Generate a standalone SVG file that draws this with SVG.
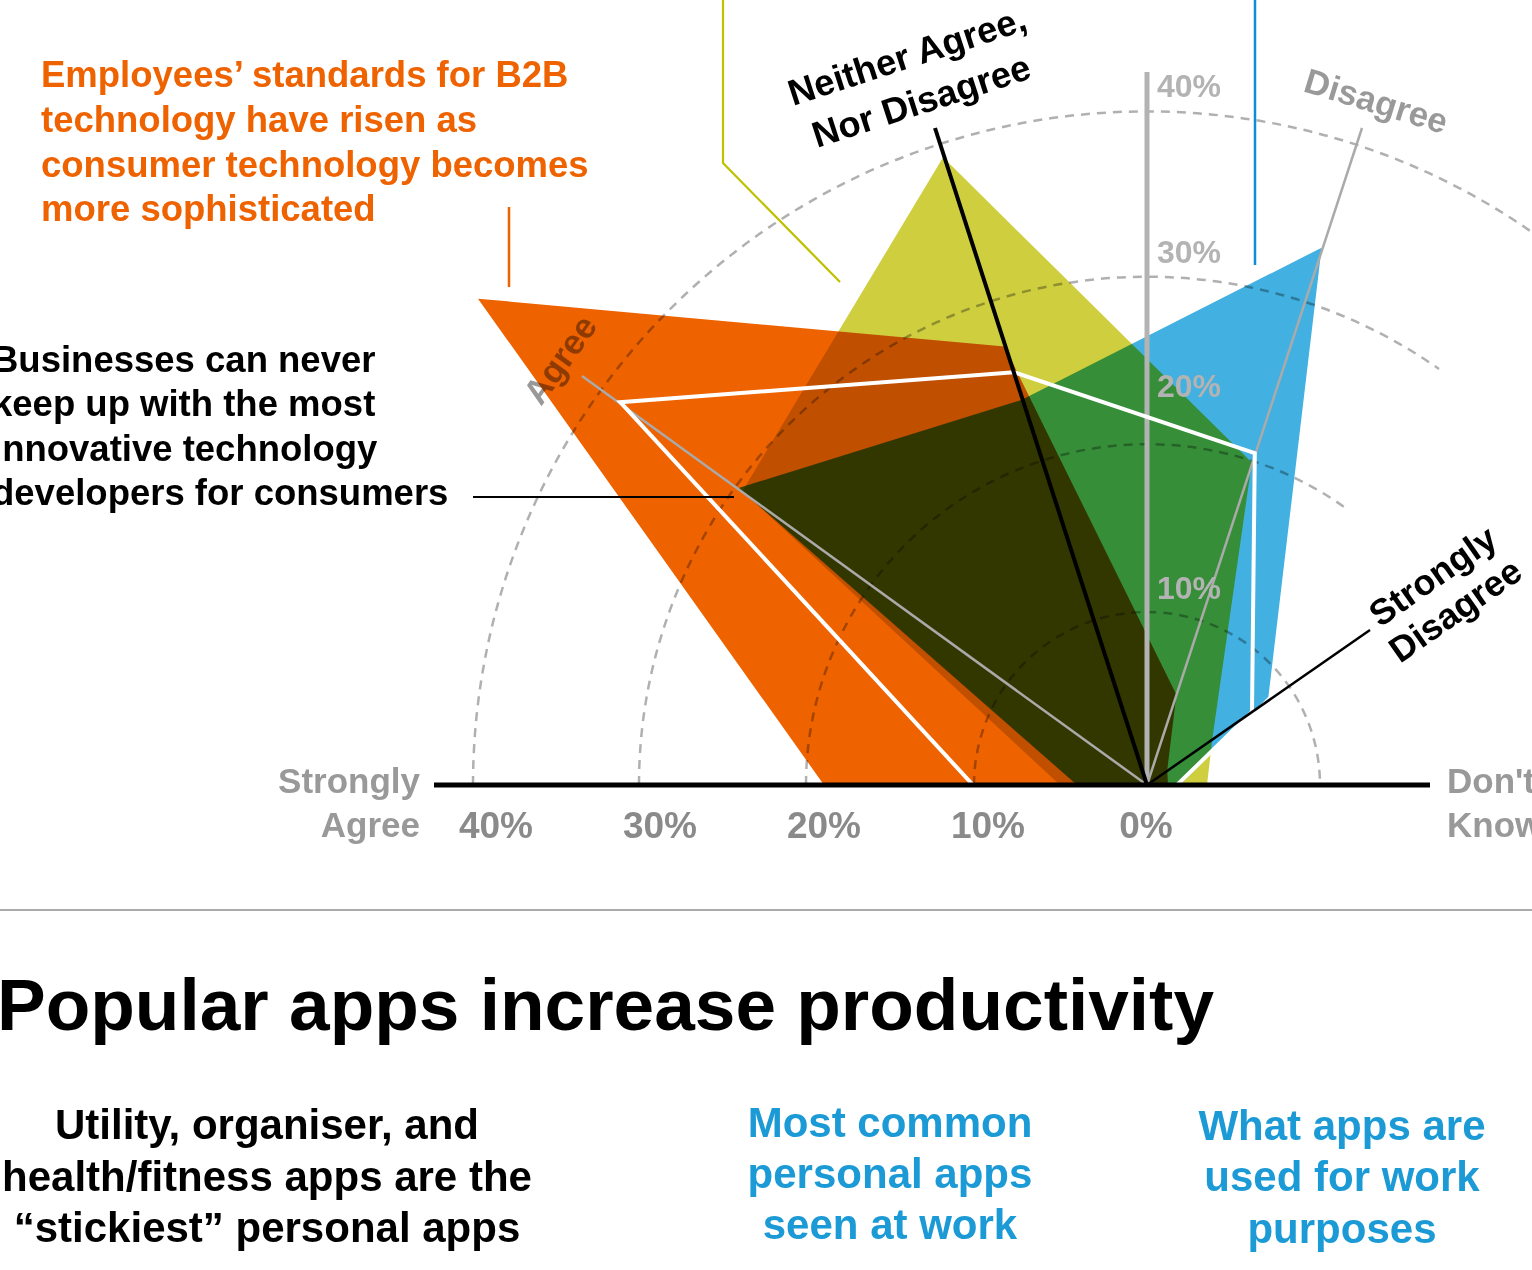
<svg xmlns="http://www.w3.org/2000/svg" width="1532" height="1270" viewBox="0 0 1532 1270">
<style>
text{font-family:"Liberation Sans",Arial,sans-serif;font-weight:bold}
.arc{fill:none;stroke:#000;stroke-opacity:0.31;stroke-width:2.5;stroke-dasharray:9 7}
.ser{mix-blend-mode:multiply}
.ann{font-size:36.5px}
.org{fill:#EE6200}
.blk{fill:#000}
.vlab{font-size:32px;fill:#B3B3B3}
.blab{font-size:37px;fill:#8A8A8A;text-anchor:middle}
.glab{font-size:35px;fill:#999}
.tlab{font-size:35px;fill:#000;fill-opacity:0.4}
.sub{font-size:42px;text-anchor:middle}
.blue{fill:#1B9AD6}
</style>
<rect x="0" y="0" width="1532" height="1270" fill="#fff"/>

<g id="grid">
<path class="arc" d="M974,785 A173,173 0 0 1 1320,785"/>
<path class="arc" d="M806,785 A341,341 0 0 1 1347,509"/>
<path class="arc" d="M639,785 A508,508 0 0 1 1439,369"/>
<path class="arc" d="M473,785 A674,674 0 0 1 1543,240"/>
</g>

<g id="series">
<g id="series-orange"><polygon class="ser" fill="#EE6200" points="824,785 478,298.7 1004.6,346.6 1176.4,694.7 1167.2,770.3 1168,785"/></g>
<g id="series-yellow"><polygon class="ser" fill="#CFCE3F" points="1060,785 742.5,491 943.1,157.3 1251.8,462.6 1212.5,737.4 1207,785"/></g>
<g id="series-blue"><polygon class="ser" fill="#42B0E0" points="1077,785 738.5,488 1021.9,399.8 1321.6,247.7 1268.4,696.8 1180,785"/></g>
</g>

<g id="connectors">
<line x1="1147" y1="785" x2="1147" y2="72" stroke="#B3B3B3" stroke-width="5"/>
<line x1="1147" y1="785" x2="582" y2="376" stroke="#AAAAAA" stroke-width="2.5"/>
<line x1="1147" y1="785" x2="1362" y2="128" stroke="#AAAAAA" stroke-width="2.5"/>
<polyline id="series-white" points="973,785 620.3,402.2 1014,372.3 1254.8,453.1 1252,712 1177,785" fill="none" stroke="#fff" stroke-width="4"/>
<line x1="1147" y1="785" x2="935" y2="128" stroke="#000" stroke-width="4"/>
<line x1="1147" y1="785" x2="1370" y2="630" stroke="#000" stroke-width="2.5"/>
<line x1="434" y1="785" x2="1430" y2="785" stroke="#000" stroke-width="5"/>
<line x1="509" y1="207" x2="509" y2="287" stroke="#EE6200" stroke-width="2.5"/>
<polyline points="723,0 723,163 840,282" fill="none" stroke="#BFC000" stroke-width="2.2"/>
<line x1="1255" y1="0" x2="1255" y2="265" stroke="#0A8ED8" stroke-width="2.5"/>
<line x1="473" y1="497" x2="734" y2="497" stroke="#000" stroke-width="2.2"/>
<line x1="0" y1="910" x2="1532" y2="910" stroke="#AAAAAA" stroke-width="2"/>
</g>

<g id="scale-labels">
<text class="vlab" x="1157" y="97">40%</text>
<text class="vlab" x="1157" y="263">30%</text>
<text class="vlab" x="1157" y="397">20%</text>
<text class="vlab" x="1157" y="599">10%</text>
<text class="blab" x="496" y="838">40%</text>
<text class="blab" x="660" y="838">30%</text>
<text class="blab" x="824" y="838">20%</text>
<text class="blab" x="988" y="838">10%</text>
<text class="blab" x="1146" y="838">0%</text>
</g>

<g id="axis-strongly-agree"><text class="glab" text-anchor="end" x="420" y="793">Strongly</text><text class="glab" text-anchor="end" x="420" y="837">Agree</text></g>
<g id="axis-dont-know"><text class="glab" x="1447" y="793">Don't</text><text class="glab" x="1447" y="837">Know</text></g>
<g id="axis-agree"><text class="tlab" transform="translate(541,407) rotate(-54.5)">Agree</text></g>
<g id="axis-disagree"><text class="tlab" transform="translate(1302,91) rotate(17)">Disagree</text></g>
<g id="axis-neither"><text class="blk" font-size="36.5" transform="translate(793,106) rotate(-18)">Neither Agree,</text><text class="blk" font-size="36.5" transform="translate(817,148) rotate(-18)">Nor Disagree</text></g>
<g id="axis-strongly-disagree"><text class="blk" font-size="36" transform="translate(1380,628) rotate(-35)">Strongly</text><text class="blk" font-size="36" transform="translate(1400,664) rotate(-35)">Disagree</text></g>

<g id="note-orange"><text class="ann org" x="41" y="87">Employees’ standards for B2B</text><text class="ann org" x="41" y="132">technology have risen as</text><text class="ann org" x="41" y="177">consumer technology becomes</text><text class="ann org" x="41" y="221">more sophisticated</text></g>
<g id="note-black"><text class="ann blk" x="-8" y="372">Businesses can never</text><text class="ann blk" x="-8" y="416">keep up with the most</text><text class="ann blk" x="-8" y="461">innovative technology</text><text class="ann blk" x="-8" y="505">developers for consumers</text></g>

<g id="title"><text class="blk" font-size="73" x="-3" y="1030">Popular apps increase productivity</text></g>
<g id="sub-stickiest"><text class="sub blk" x="267" y="1139">Utility, organiser, and</text><text class="sub blk" x="267" y="1191">health/fitness apps are the</text><text class="sub blk" x="267" y="1242">“stickiest” personal apps</text></g>
<g id="sub-common"><text class="sub blue" x="890" y="1137">Most common</text><text class="sub blue" x="890" y="1188">personal apps</text><text class="sub blue" x="890" y="1239">seen at work</text></g>
<g id="sub-work"><text class="sub blue" x="1342" y="1140">What apps are</text><text class="sub blue" x="1342" y="1191">used for work</text><text class="sub blue" x="1342" y="1243">purposes</text></g>
</svg>
